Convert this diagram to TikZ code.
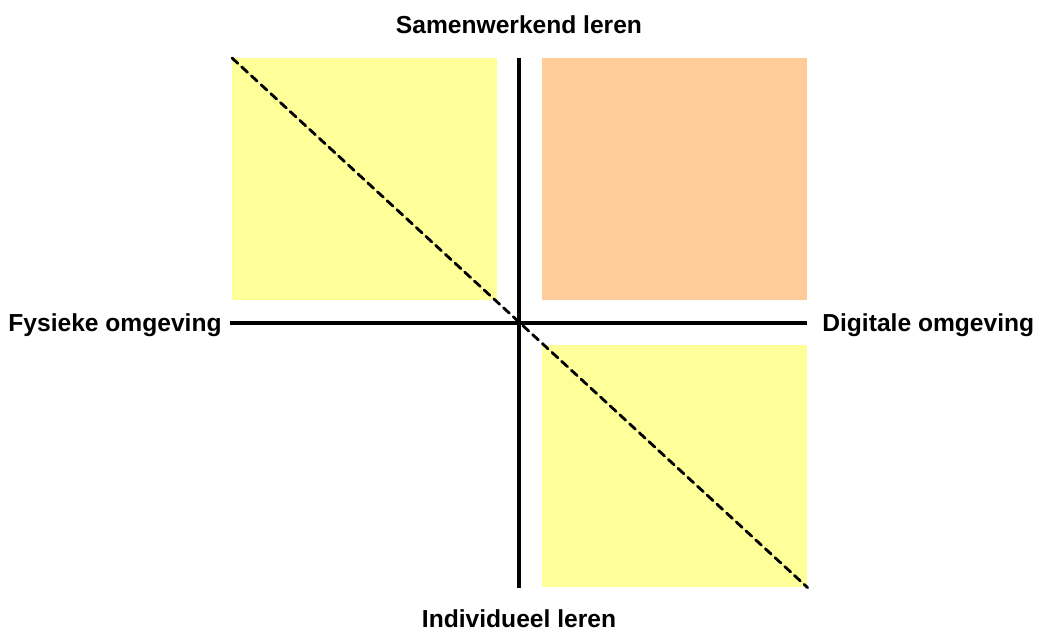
\documentclass[tikz,border=0pt]{standalone}
\usepackage{fontspec}
\setmainfont{Liberation Sans}
\definecolor{geel}{RGB}{255,255,153}
\definecolor{oranje}{RGB}{255,204,153}
\tikzset{
  vak/.style={inner sep=0pt, minimum width=265*0.02cm, minimum height=242*0.02cm},
  as/.style={line width=1.9pt},
  label/.style={font=\bfseries\fontsize{14}{16}\selectfont, inner sep=0pt}
}
\begin{document}
\begin{tikzpicture}[x=0.02cm, y=-0.02cm]
        % kader = afmeting van de figuur in pixels
        \useasboundingbox (0,0) rectangle (1047,631);

        % vlakken per kwadrant
        \node[vak, fill=geel, anchor=north west] (fysiek) at (232,58) {};
        \node[vak, fill=oranje, anchor=north west] (digitaal) at (542,58) {};
        \node[vak, fill=geel, anchor=north west] (individueel) at (542,345) {};

        % eindpunten van de assen
        \coordinate (boven) at (519,58);
        \coordinate (onder) at (519,588);
        \coordinate (links) at (230,323);
        \coordinate (rechts) at (807,323);

        \draw[as] (boven) -- (onder);
        \draw[as] (links) -- (rechts);

        % diagonaal
        \draw[line width=1.6pt, dash pattern=on 4.5pt off 3pt, line cap=round]
          (fysiek.north west) -- (individueel.south east);

        % labels bij de assen
        \node[label] (samen) at (519,25) {Samenwerkend leren};
        \node[label] (indiv) at (519,619) {Individueel leren};
        \node[label, anchor=east] (fysiekl) at (222,325) {Fysieke omgeving};
        \node[label, anchor=west] (digitaall) at (822,325) {Digitale omgeving};
\end{tikzpicture}
\end{document}
